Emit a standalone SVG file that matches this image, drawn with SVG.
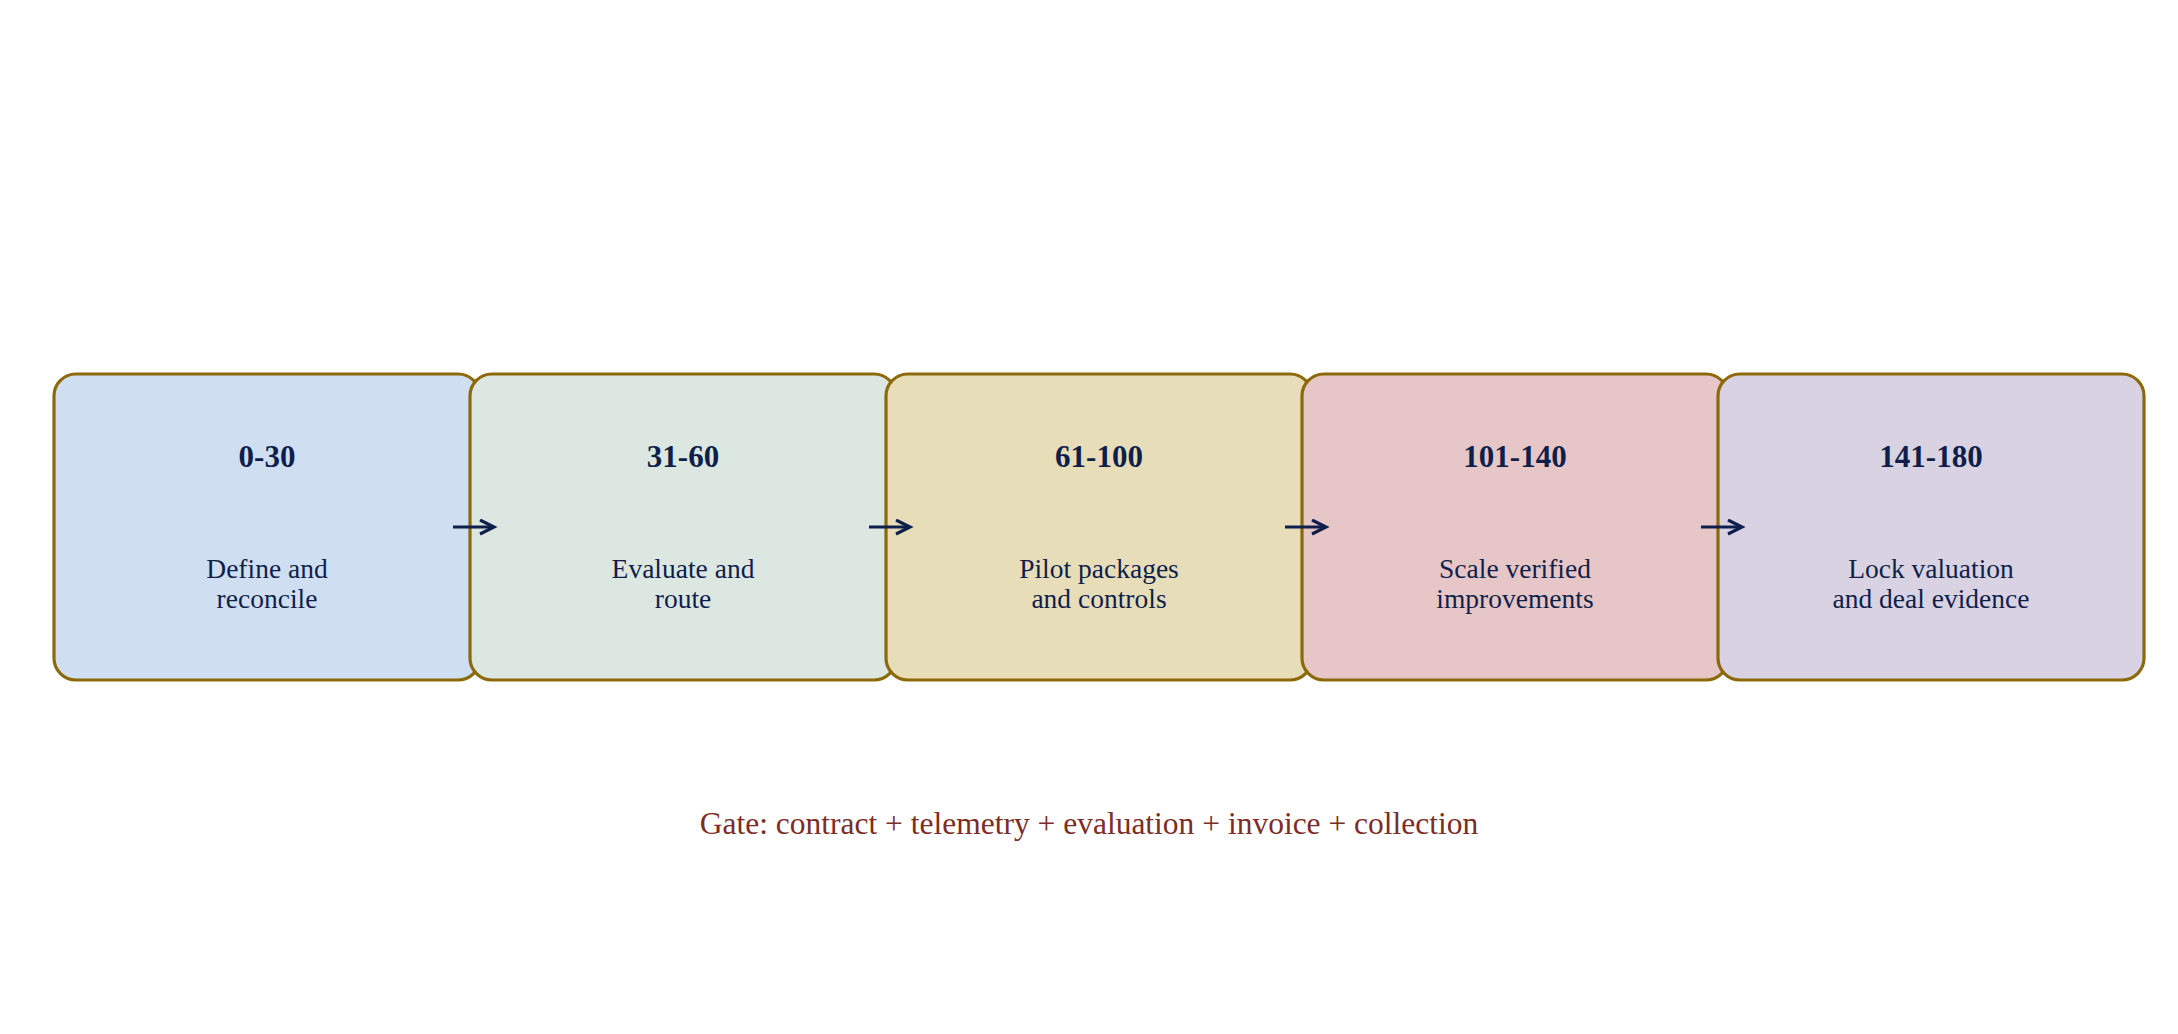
<svg xmlns="http://www.w3.org/2000/svg" width="2178" height="1034" viewBox="0 0 2178 1034">
<style>
.box{stroke:#8c6a0c;stroke-width:3.2}
.ttl{font-family:"Liberation Serif","Times New Roman",serif;font-weight:bold;font-size:31px;fill:#0f1f4b;text-anchor:middle}
.body{font-family:"Liberation Serif","Times New Roman",serif;font-size:27.5px;fill:#0f1f4b;text-anchor:middle}
.gate{font-family:"Liberation Serif","Times New Roman",serif;font-size:31.5px;fill:#7b2d26;text-anchor:middle}
.arr{stroke:#0f1f4b;stroke-width:3.2;fill:none}
</style>
<defs>
<marker id="ah" markerUnits="userSpaceOnUse" markerWidth="20" markerHeight="20" refX="15" refY="8" orient="auto">
<path d="M1,1 L15,8 L1,15" fill="none" stroke="#0f1f4b" stroke-width="3.2"/>
</marker>
</defs>
<rect width="2178" height="1034" fill="#ffffff"/>
<g id="node1">
<rect class="box" x="54" y="374" width="426" height="306" rx="22" fill="#cfdef0"/>
<text class="ttl" x="267" y="467">0-30</text>
<text class="body" x="267" y="578">Define and</text>
<text class="body" x="267" y="608">reconcile</text>
</g>
<g id="node2">
<rect class="box" x="470" y="374" width="426" height="306" rx="22" fill="#dde7e2"/>
<text class="ttl" x="683" y="467">31-60</text>
<text class="body" x="683" y="578">Evaluate and</text>
<text class="body" x="683" y="608">route</text>
</g>
<g id="node3">
<rect class="box" x="886" y="374" width="426" height="306" rx="22" fill="#e7ddb9"/>
<text class="ttl" x="1099" y="467">61-100</text>
<text class="body" x="1099" y="578">Pilot packages</text>
<text class="body" x="1099" y="608">and controls</text>
</g>
<g id="node4">
<rect class="box" x="1302" y="374" width="426" height="306" rx="22" fill="#e6c6c6"/>
<text class="ttl" x="1515" y="467">101-140</text>
<text class="body" x="1515" y="578">Scale verified</text>
<text class="body" x="1515" y="608">improvements</text>
</g>
<g id="node5">
<rect class="box" x="1718" y="374" width="426" height="306" rx="22" fill="#d9d2e3"/>
<text class="ttl" x="1931" y="467">141-180</text>
<text class="body" x="1931" y="578">Lock valuation</text>
<text class="body" x="1931" y="608">and deal evidence</text>
</g>
<g id="connectors">
<line class="arr" x1="453" y1="527" x2="494" y2="527" marker-end="url(#ah)"/>
<line class="arr" x1="869" y1="527" x2="910" y2="527" marker-end="url(#ah)"/>
<line class="arr" x1="1285" y1="527" x2="1326" y2="527" marker-end="url(#ah)"/>
<line class="arr" x1="1701" y1="527" x2="1742" y2="527" marker-end="url(#ah)"/>
</g>
<g id="gate">
<text class="gate" x="1089" y="834">Gate: contract + telemetry + evaluation + invoice + collection</text>
</g>
</svg>
